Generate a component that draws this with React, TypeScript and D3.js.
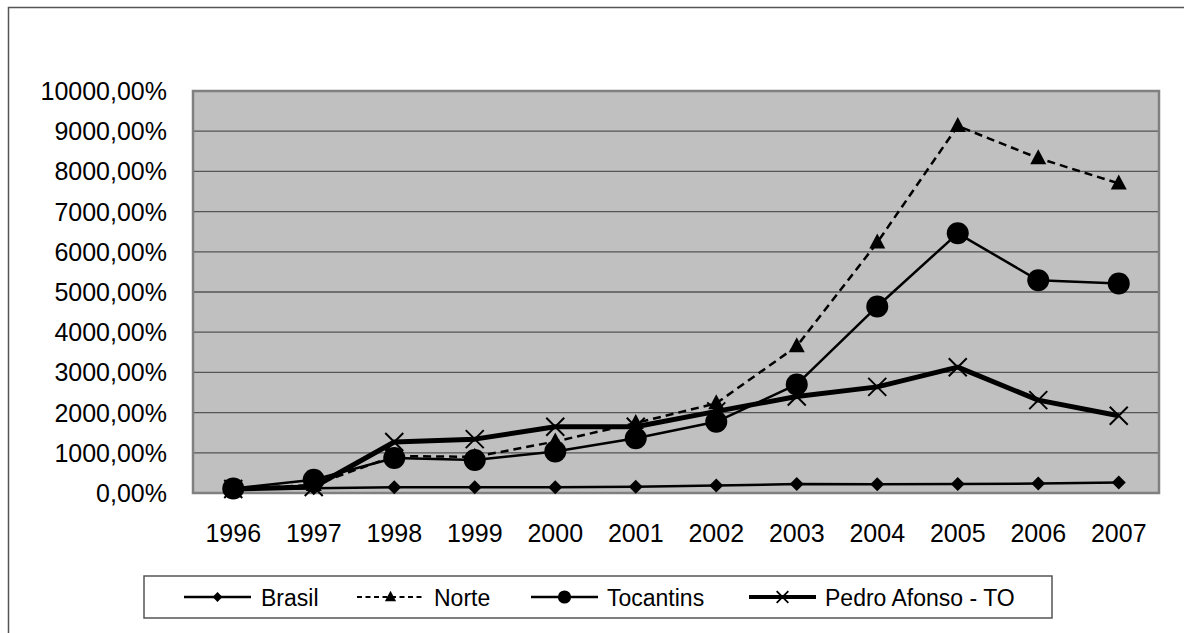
import React from "react";
import * as d3 from "d3";

const years = ["1996", "1997", "1998", "1999", "2000", "2001", "2002", "2003", "2004", "2005", "2006", "2007"];
const brasil = [100, 120, 140, 140, 145, 157, 185, 224, 215, 225, 235, 260];
const norte = [100, 200, 920, 900, 1280, 1740, 2230, 3650, 6230, 9130, 8330, 7700];
const tocantins = [110, 330, 870, 820, 1030, 1360, 1770, 2700, 4640, 6460, 5290, 5210];
const pedro = [100, 150, 1270, 1340, 1650, 1650, 2030, 2400, 2640, 3130, 2310, 1920];
const yTicks = [0, 1000, 2000, 3000, 4000, 5000, 6000, 7000, 8000, 9000, 10000];
const seriesNames = ["Brasil", "Norte", "Tocantins", "Pedro Afonso - TO"];

const FONT = "'Liberation Sans', Arial, sans-serif";

const fmt = (v: number) => v.toFixed(2).replace(".", ",") + "%";

function Marker({ kind, x, y, s = 1, sw = 2 }: { kind: string; x: number; y: number; s?: number; sw?: number }) {
  if (kind === "diamond") {
    const r = 7 * s;
    return <path d={`M${x},${y - r}L${x + r},${y}L${x},${y + r}L${x - r},${y}Z`} fill="#000" />;
  }
  if (kind === "triangle") {
    return <path d={`M${x},${y - 9 * s}L${x + 8 * s},${y + 6 * s}L${x - 8 * s},${y + 6 * s}Z`} fill="#000" />;
  }
  if (kind === "circle") {
    return <circle cx={x} cy={y} r={11 * s} fill="#000" />;
  }
  const r = 9 * s;
  return (
    <path
      d={`M${x - r},${y - r}L${x + r},${y + r}M${x - r},${y + r}L${x + r},${y - r}`}
      stroke="#000"
      strokeWidth={sw}
      fill="none"
    />
  );
}

export default function App() {
  const left = 193, right = 1159, top = 91, bottom = 493;
  const x = d3.scaleBand<string>().domain(years).range([left, right]);
  const y = d3.scaleLinear().domain([0, 10000]).range([bottom, top]);
  const cx = (d: string) => (x(d) as number) + x.bandwidth() / 2;

  const series = [
    { name: seriesNames[0], data: brasil, marker: "diamond", width: 2.5, dash: undefined as string | undefined, lw: 2.5, ms: 0.7 },
    { name: seriesNames[1], data: norte, marker: "triangle", width: 2.5, dash: "8,5", lw: 2, ms: 0.7 },
    { name: seriesNames[2], data: tocantins, marker: "circle", width: 2.5, dash: undefined, lw: 2.5, ms: 0.6 },
    { name: seriesNames[3], data: pedro, marker: "x", width: 5, dash: undefined, lw: 4, ms: 0.65 },
  ];

  const line = d3
    .line<number>()
    .x((_, i) => cx(years[i]))
    .y((v) => y(v));

  const legendItems = [
    { lx: 184, tx: 261 },
    { lx: 357, tx: 434 },
    { lx: 531, tx: 607 },
    { lx: 749, tx: 825 },
  ];

  return (
    <svg
      width={1184}
      height={633}
      style={{ position: "absolute", left: 0, top: 0, background: "#fff" }}
      fontFamily={FONT}
    >
      <rect x={8.5} y={7.5} width={1300} height={800} fill="#fff" stroke="#555" strokeWidth={1.5} />
      <rect x={left} y={top} width={right - left} height={bottom - top} fill="#C0C0C0" />
      {yTicks.map((t) => (
        <line key={t} x1={left} x2={right} y1={y(t)} y2={y(t)} stroke="#555" strokeWidth={1.3} />
      ))}
      <rect x={left} y={top} width={right - left} height={bottom - top} fill="none" stroke="#808080" strokeWidth={2.5} />
      {yTicks.map((t) => (
        <text key={t} x={167} y={y(t)} dy="0.36em" textAnchor="end" fontSize={25} fill="#000">
          {fmt(t)}
        </text>
      ))}
      {years.map((yr) => (
        <text key={yr} x={cx(yr)} y={542} textAnchor="middle" fontSize={25} fill="#000">
          {yr}
        </text>
      ))}
      {series.map((s) => (
        <g key={s.name}>
          <path d={line(s.data) || ""} fill="none" stroke="#000" strokeWidth={s.width} strokeDasharray={s.dash} strokeLinejoin="round" />
          {s.data.map((v, i) => (
            <Marker key={i} kind={s.marker} x={cx(years[i])} y={y(v)} />
          ))}
        </g>
      ))}
      <rect x={144} y={576} width={908} height={42} fill="#fff" stroke="#555" strokeWidth={1.5} />
      {series.map((s, i) => {
        const it = legendItems[i];
        const ly = 597;
        return (
          <g key={s.name}>
            <line x1={it.lx} x2={it.lx + 67} y1={ly} y2={ly} stroke="#000" strokeWidth={s.lw} strokeDasharray={s.dash ? "5,3.5" : undefined} />
            <Marker kind={s.marker} x={it.lx + 33.5} y={ly} s={s.ms} sw={1.8} />
            <text x={it.tx} y={606} fontSize={23} fill="#000">
              {s.name}
            </text>
          </g>
        );
      })}
    </svg>
  );
}
